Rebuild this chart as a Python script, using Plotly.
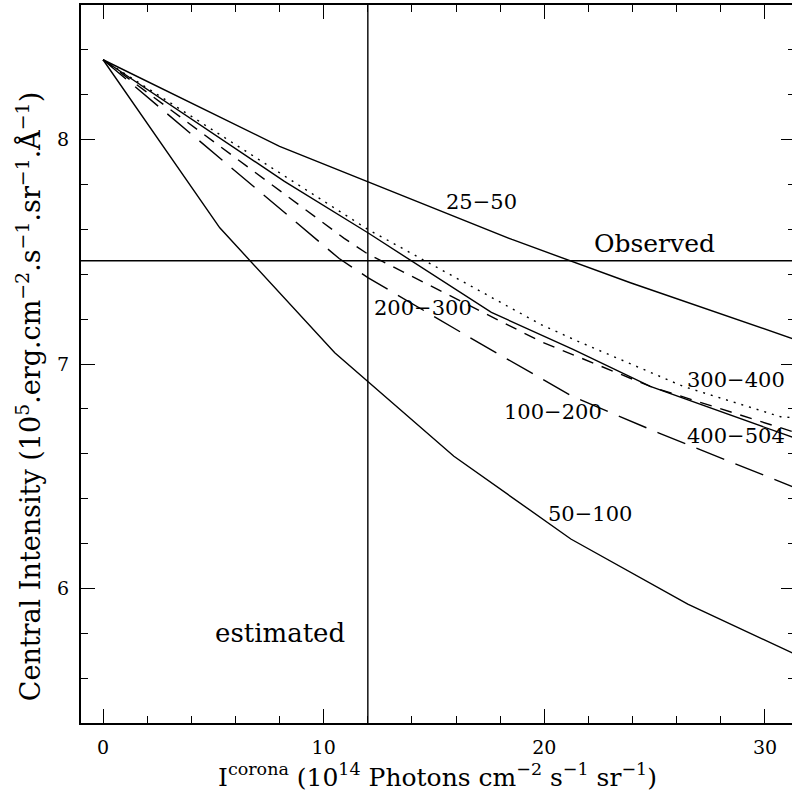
import plotly.graph_objects as go

# ---- data ----
x_25_50 = [0, 8.0, 18.53, 23.9, 31.4]
y_25_50 = [8.356, 7.970, 7.555, 7.362, 7.108]

x_50_100 = [0, 5.29, 10.5, 15.9, 21.2, 26.5, 31.4]
y_50_100 = [8.356, 7.607, 7.05, 6.589, 6.22, 5.93, 5.705]

x_100_200 = [0, 10.7, 12.0, 17.04, 21.25, 25.17, 31.4]
y_100_200 = [8.356, 7.47, 7.385, 7.094, 6.857, 6.693, 6.447]

x_200_300 = [0, 10.93, 12.0, 19.84, 24.8, 31.4]
y_200_300 = [8.356, 7.56, 7.49, 7.10, 6.90, 6.694]

x_300_400 = [0, 12.0, 19.84, 21.55, 26.3, 30.7, 31.4]
y_300_400 = [8.356, 7.60, 7.176, 7.10, 6.90, 6.765, 6.76]

x_400_504 = [0, 8.22, 12.0, 17.6, 21.3, 24.8, 31.4]
y_400_504 = [8.356, 7.814, 7.585, 7.23, 7.065, 6.90, 6.668]

observed_value = 7.46
estimated_x = 12.0

x_range = [-1.0, 31.36]
y_range = [5.4, 8.6]

labels = ["25\u221250", "Observed", "200\u2212300", "300\u2212400",
          "100\u2212200", "400\u2212504", "50\u2212100", "estimated"]
label_x = [17.13, 25.0, 14.5, 28.7, 20.4, 28.7, 22.05, 8.04]
label_y = [7.724, 7.537, 7.25, 6.927, 6.784, 6.68, 6.33, 5.80]
label_size = [21, 25, 21, 21, 21, 21, 21, 26]

FONT = "DejaVu Serif"

fig = go.Figure()

series = [
    (x_25_50, y_25_50, "solid"),
    (x_50_100, y_50_100, "solid"),
    (x_100_200, y_100_200, "30px,12px"),
    (x_200_300, y_200_300, "12px,9px"),
    (x_300_400, y_300_400, "2px,6px"),
    (x_400_504, y_400_504, "solid"),
]
for xs, ys, dash in series:
    fig.add_trace(go.Scatter(x=xs, y=ys, mode="lines",
                             line=dict(color="black", width=1.4, dash=dash),
                             showlegend=False, hoverinfo="skip"))

# observed (horizontal) and estimated (vertical) reference lines
fig.add_trace(go.Scatter(x=x_range, y=[observed_value, observed_value], mode="lines",
                         line=dict(color="black", width=1.4), showlegend=False,
                         hoverinfo="skip"))
fig.add_trace(go.Scatter(x=[estimated_x, estimated_x], y=y_range, mode="lines",
                         line=dict(color="black", width=1.4), showlegend=False,
                         hoverinfo="skip"))

for t, lx, ly, sz in zip(labels, label_x, label_y, label_size):
    fig.add_annotation(x=lx, y=ly, xref="x", yref="y", text=t, showarrow=False,
                       font=dict(family=FONT, size=sz, color="black"),
                       xanchor="center", yanchor="middle")

fig.add_annotation(
    xref="paper", yref="paper", x=-0.0743, y=0.455, textangle=-90,
    text="Central Intensity (10<sup>5</sup>.erg.cm<sup>\u22122</sup>.s<sup>\u22121</sup>.sr<sup>\u22121</sup>.\u00c5<sup>\u22121</sup>)",
    showarrow=False, font=dict(family=FONT, size=27, color="black"),
    xanchor="center", yanchor="middle")

fig.add_annotation(
    xref="paper", yref="paper", x=0.499, y=-0.0738,
    text="I<sup>corona</sup> (10<sup>14</sup> Photons cm<sup>\u22122</sup> s<sup>\u22121</sup> sr<sup>\u22121</sup>)",
    showarrow=False, font=dict(family=FONT, size=25, color="black"),
    xanchor="center", yanchor="middle")

axis_common = dict(showgrid=False, zeroline=False, showline=True, linecolor="black",
                   linewidth=2, mirror="ticks", ticks="inside", ticklen=14, tickwidth=1.3,
                   tickcolor="black", ticklabelstandoff=6,
                   tickfont=dict(family=FONT, size=19, color="black"))

fig.update_xaxes(range=x_range, tick0=0, dtick=10,
                 minor=dict(dtick=2, tick0=0, ticks="inside", ticklen=7, tickwidth=1.3,
                            tickcolor="black", showgrid=False),
                 **axis_common)
fig.update_yaxes(range=y_range, tick0=0, dtick=1,
                 minor=dict(dtick=0.2, tick0=0, ticks="inside", ticklen=7, tickwidth=1.3,
                            tickcolor="black", showgrid=False),
                 **axis_common)

# figure is slightly wider than the 792px window so the right frame falls just outside it
fig.update_layout(width=797, height=796, margin=dict(l=81, r=0, t=5, b=73),
                  plot_bgcolor="white", paper_bgcolor="white", hovermode=False)

fig.write_html("out.html", config={"displayModeBar": False},
               post_script="document.body.style.margin='0px';"
                           "document.body.style.overflow='hidden';"
                           "document.documentElement.style.overflow='hidden';")
